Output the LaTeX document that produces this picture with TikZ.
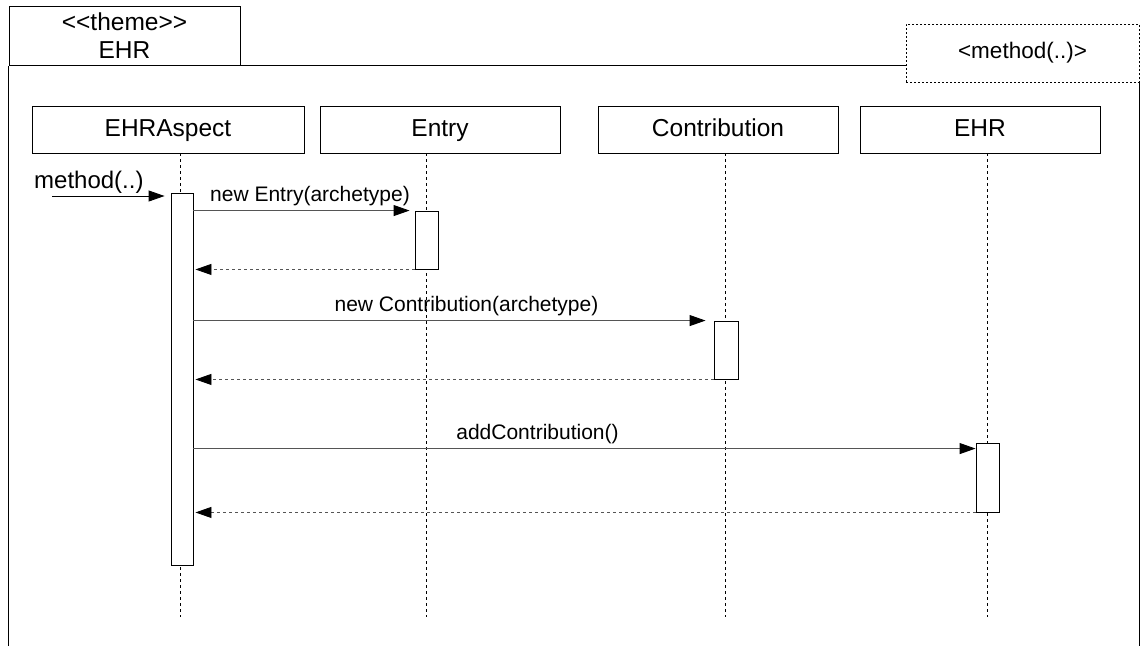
\documentclass[tikz,border=0pt]{standalone}
\usepackage{fontspec}
\setmainfont{Liberation Sans}
\usepackage{tikz}
\usetikzlibrary{positioning,arrows.meta,calc}
\definecolor{linegray}{RGB}{85,85,85}

\newcommand{\namefont}{\fontsize{24.5}{28}\selectfont}
\newcommand{\msgfont}{\fontsize{21}{24}\selectfont}

\tikzset{
  objbox/.style={draw, line width=0.9pt, inner sep=0pt, minimum height=47pt, font=\namefont,
                 text height=18pt, text depth=5pt},
  actbox/.style={draw, fill=white, line width=0.9pt, inner sep=0pt},
  lifeline/.style={dash pattern=on 3pt off 3pt, line width=0.8pt},
  msg/.style={linegray, line width=0.9pt, -{Triangle[length=16pt,width=11pt,color=black]}},
  ret/.style={linegray, line width=0.9pt, dash pattern=on 3pt off 3pt, -{Triangle[length=16pt,width=11pt,color=black]}},
  msglabel/.style={font=\msgfont, text=black},
}

\begin{document}
\begin{tikzpicture}[x=1pt, y=-1pt]
    \useasboundingbox (0,0) rectangle (1142,646);

    % frame
    \node[draw, line width=1pt, minimum width=231pt, minimum height=59pt, inner sep=0pt,
          align=center, font=\namefont] (theme) at (124.5,35.5) {<{}<theme>{}>\\EHR};
    \node[draw, line width=0.9pt, dash pattern=on 2pt off 2pt, minimum width=233pt,
          minimum height=58pt, inner sep=0pt, font=\fontsize{22.5}{25}\selectfont]
          (sig) at (1022.5,53) {<method(..)>};
    \draw[line width=1pt] (theme.south west |- 0,646) -- (theme.south west);
    \draw[line width=1pt] (theme.south east) -- (theme.south -| sig.west);
    \draw[line width=1pt] (sig.south east) -- (sig.east |- 0,646);

    % objects
    \node[objbox, minimum width=272pt] (aspect)  at (168,129.5) {EHRAspect};
    \node[objbox, minimum width=240pt] (entry)   at (440,129.5) {Entry};
    \node[objbox, minimum width=240pt] (contrib) at (718,129.5) {Contribution};
    \node[objbox, minimum width=240pt] (ehr)     at (980,129.5) {EHR};

    % lifelines
    \coordinate (aspectend)  at (180,617);
    \coordinate (entryend)   at (426,617);
    \coordinate (contribend) at (725,617);
    \coordinate (ehrend)     at (987,617);
    \draw[lifeline] (aspect.south -| aspectend) -- (aspectend);
    \draw[lifeline] (entry.south -| entryend) -- (entryend);
    \draw[lifeline] (contrib.south -| contribend) -- (contribend);
    \draw[lifeline] (ehr.south -| ehrend) -- (ehrend);

    % activations
    \node[actbox, minimum width=22pt, minimum height=372pt] (aspectact)  at (182,379) {};
    \node[actbox, minimum width=23pt, minimum height=58pt]  (entryact)   at (426.5,240) {};
    \node[actbox, minimum width=24pt, minimum height=58pt]  (contribact) at (726,350) {};
    \node[actbox, minimum width=23pt, minimum height=69pt]  (ehract)     at (987.5,477.5) {};

    % messages
    \coordinate (caller) at (52,196);
    \draw[msg, black, shorten >=6pt] (caller) -- (caller -| aspectact.west);
    \node[anchor=base west, font=\fontsize{24}{27}\selectfont, inner sep=0pt] (callerlbl) at (34,188) {method(..)};

    \draw[msg, shorten >=5pt] (aspectact.east |- entryact.north) -- (entryact.north west)
        node[msglabel, midway, above=1pt, xshift=6pt] (newentry) {new Entry(archetype)};
    \draw[ret, shorten >=2pt] (entryact.south west) -- (aspectact.east |- entryact.south);

    \draw[msg, shorten >=8pt] (aspectact.east |- contribact.north) -- (contribact.north west)
        node[msglabel, midway, above=1pt, xshift=13pt] (newcontrib) {new Contribution(archetype)};
    \draw[ret, shorten >=2pt] (contribact.south west) -- (aspectact.east |- contribact.south);

    \coordinate (addtip) at ([yshift=-6pt]ehract.north west);
    \draw[msg] (aspectact.east |- addtip) -- (addtip)
        node[msglabel, midway, above=1pt, xshift=-47pt] (addcontrib) {addContribution()};
    \draw[ret, shorten >=2pt] (ehract.south west) -- (aspectact.east |- ehract.south);
  \end{tikzpicture}
\end{document}
